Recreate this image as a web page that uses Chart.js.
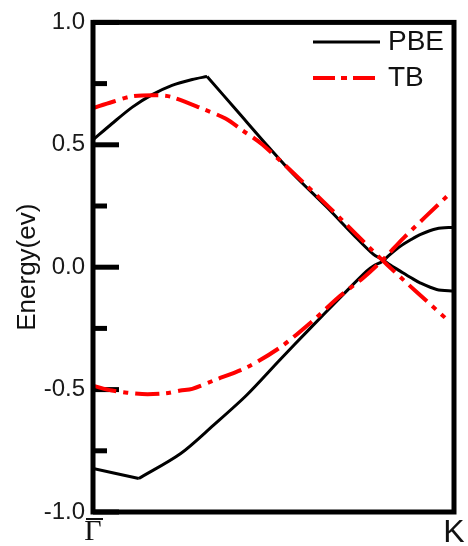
<!DOCTYPE html>
<html>
<head>
<meta charset="utf-8">
<script src="https://cdn.jsdelivr.net/npm/chart.js@4/dist/chart.umd.min.js"></script>
<style>
  html, body { margin: 0; padding: 0; background: #fff; }
  canvas { display: block; }
</style>
</head>
<body>
<canvas id="bands" width="468" height="546"></canvas>
<script>
// k-path position (0 = Γ, 1 = K) and band energies in eV
const pbeUpperK = [0, 0.053, 0.109, 0.164, 0.219, 0.275, 0.316, 0.40, 0.487, 0.555, 0.648, 0.721, 0.777, 0.80, 0.82, 0.851, 0.88, 0.906, 0.952, 1.0];
const pbeUpperE = [0.52, 0.587, 0.654, 0.705, 0.743, 0.767, 0.779, 0.637, 0.49, 0.38, 0.245, 0.133, 0.052, 0.033, 0.012, -0.016, -0.042, -0.064, -0.091, -0.098];
const pbeUpperKink = 6;

const pbeLowerK = [0, 0.127, 0.242, 0.334, 0.426, 0.518, 0.60, 0.694, 0.758, 0.78, 0.80, 0.82, 0.851, 0.88, 0.906, 0.952, 1.0];
const pbeLowerE = [-0.822, -0.863, -0.762, -0.645, -0.522, -0.378, -0.252, -0.110, -0.016, 0.008, 0.022, 0.048, 0.085, 0.112, 0.133, 0.157, 0.163];
const pbeLowerKink = 1;

const tbUpperK = [0, 0.053, 0.109, 0.183, 0.219, 0.302, 0.367, 0.413, 0.47, 0.638, 0.814, 0.975];
const tbUpperE = [0.650, 0.675, 0.698, 0.702, 0.695, 0.648, 0.607, 0.560, 0.50, 0.268, 0.011, -0.206];

const tbLowerK = [0, 0.053, 0.136, 0.201, 0.242, 0.275, 0.334, 0.426, 0.518, 0.607, 0.684, 0.749, 0.804, 0.860, 0.98];
const tbLowerE = [-0.484, -0.504, -0.518, -0.515, -0.504, -0.497, -0.463, -0.409, -0.328, -0.221, -0.118, -0.043, 0.032, 0.119, 0.289];

// axis ticks
const xTickValues = [0, 1];
const xTickLabels = ['\u0393', 'K'];
const yMajorValues = [-1, -0.5, 0, 0.5, 1];
const yTickLabels = ['-1.0', '-0.5', '0.0', '0.5', '1.0'];
const yMinorValues = [-0.75, -0.25, 0.25, 0.75];

// legend entries
const legendNames = ['PBE', 'TB'];

const pairs = (xs, ys, from, to) => xs.slice(from, to).map((x, i) => ({ x: x, y: ys.slice(from, to)[i] }));

const BLACK = '#000000';
const RED = '#ff0000';
const TB_DASH = [24, 7, 5, 7];

// inward tick marks on the energy axis
const innerTicks = {
  id: 'innerTicks',
  beforeDatasetsDraw(chart) {
    const { ctx, chartArea, scales } = chart;
    const y = scales.y;
    ctx.save();
    ctx.strokeStyle = BLACK;
    ctx.lineWidth = 5;
    ctx.lineCap = 'butt';
    const draw = (v, len) => {
      const py = y.getPixelForValue(v);
      ctx.beginPath();
      ctx.moveTo(chartArea.left, py);
      ctx.lineTo(chartArea.left + len, py);
      ctx.stroke();
    };
    yMajorValues.forEach(v => draw(v, 26));
    yMinorValues.forEach(v => draw(v, 14));
    ctx.restore();
  }
};

// frame around the plot area, the bar over Γ and the legend in the upper right
const frameAndLegend = {
  id: 'frameAndLegend',
  afterDatasetsDraw(chart) {
    const { ctx, chartArea } = chart;
    ctx.save();
    ctx.strokeStyle = BLACK;
    ctx.lineWidth = 5;
    ctx.strokeRect(chartArea.left, chartArea.top, chartArea.right - chartArea.left, chartArea.bottom - chartArea.top);

    const x0 = chartArea.right - 141;
    const x1 = chartArea.right - 74;
    const rows = [
      { y: 42, color: BLACK, width: 3, dash: [] },
      { y: 78, color: RED, width: 4, dash: [22, 6, 6, 6] }
    ];
    ctx.font = '28px "Liberation Sans", Arial, sans-serif';
    ctx.textBaseline = 'middle';
    ctx.textAlign = 'left';
    rows.forEach((r, i) => {
      ctx.beginPath();
      ctx.setLineDash(r.dash);
      ctx.strokeStyle = r.color;
      ctx.lineWidth = r.width;
      ctx.moveTo(x0, r.y);
      ctx.lineTo(x1, r.y);
      ctx.stroke();
      ctx.setLineDash([]);
      ctx.fillStyle = '#111';
      ctx.fillText(legendNames[i], x1 + 8, r.y);
    });
    ctx.restore();
  },
  afterDraw(chart) {
    const { ctx, scales } = chart;
    const gx = scales.x.getPixelForValue(xTickValues[0]);
    ctx.save();
    ctx.strokeStyle = '#111';
    ctx.lineWidth = 2;
    ctx.beginPath();
    ctx.moveTo(gx - 7, scales.x.top + 7);
    ctx.lineTo(gx + 10, scales.x.top + 7);
    ctx.stroke();
    ctx.restore();
  }
};

const lineDefaults = { showLine: true, pointRadius: 0, pointHoverRadius: 0, fill: false, tension: 0.3 };
const blackLine = { borderColor: BLACK, borderWidth: 3, order: 2, label: legendNames[0] };
const redLine = { borderColor: RED, borderWidth: 4, borderDash: TB_DASH, order: 1, label: legendNames[1] };

new Chart(document.getElementById('bands'), {
  type: 'scatter',
  data: {
    datasets: [
      Object.assign({ data: pairs(pbeUpperK, pbeUpperE, 0, pbeUpperKink + 1) }, blackLine, lineDefaults),
      Object.assign({ data: pairs(pbeUpperK, pbeUpperE, pbeUpperKink) }, blackLine, lineDefaults),
      Object.assign({ data: pairs(pbeLowerK, pbeLowerE, 0, pbeLowerKink + 1) }, blackLine, lineDefaults),
      Object.assign({ data: pairs(pbeLowerK, pbeLowerE, pbeLowerKink) }, blackLine, lineDefaults),
      Object.assign({ data: pairs(tbUpperK, tbUpperE, 0) }, redLine, lineDefaults),
      Object.assign({ data: pairs(tbLowerK, tbLowerE, 0) }, redLine, lineDefaults)
    ]
  },
  options: {
    responsive: false,
    animation: false,
    devicePixelRatio: 1,
    layout: { padding: { top: 21, right: 14, bottom: 0, left: 0 } },
    plugins: { legend: { display: false }, tooltip: { enabled: false } },
    scales: {
      x: {
        type: 'linear',
        min: 0,
        max: 1,
        grid: { display: false, drawTicks: false },
        border: { display: false },
        afterBuildTicks(scale) { scale.ticks = xTickValues.map(v => ({ value: v })); },
        afterFit(scale) { scale.height = 34; },
        ticks: {
          padding: 2,
          maxRotation: 0,
          autoSkip: false,
          color: '#111',
          callback: (v) => xTickLabels[xTickValues.indexOf(v)],
          font: (ctx) => ctx.index === 0
            ? { family: '"Liberation Serif", "DejaVu Serif", serif', size: 30 }
            : { family: '"Liberation Sans", Arial, sans-serif', size: 32 }
        }
      },
      y: {
        type: 'linear',
        min: -1,
        max: 1,
        grid: { display: false, drawTicks: false },
        border: { display: false },
        afterBuildTicks(scale) {
          scale.ticks = yMajorValues.concat(yMinorValues).sort((a, b) => a - b).map(v => ({ value: v }));
        },
        afterFit(scale) { scale.width = 93; },
        ticks: {
          padding: 8,
          autoSkip: false,
          color: '#1a1a1a',
          font: { family: '"Liberation Sans", Arial, sans-serif', size: 24 },
          callback: (v) => {
            const i = yMajorValues.indexOf(v);
            return i >= 0 ? yTickLabels[i] : '';
          }
        },
        title: {
          display: true,
          text: 'Energy(ev)',
          color: '#111',
          font: { family: '"Liberation Sans", Arial, sans-serif', size: 26 },
          padding: { top: 12, bottom: 0 }
        }
      }
    }
  },
  plugins: [innerTicks, frameAndLegend]
});
</script>
</body>
</html>
